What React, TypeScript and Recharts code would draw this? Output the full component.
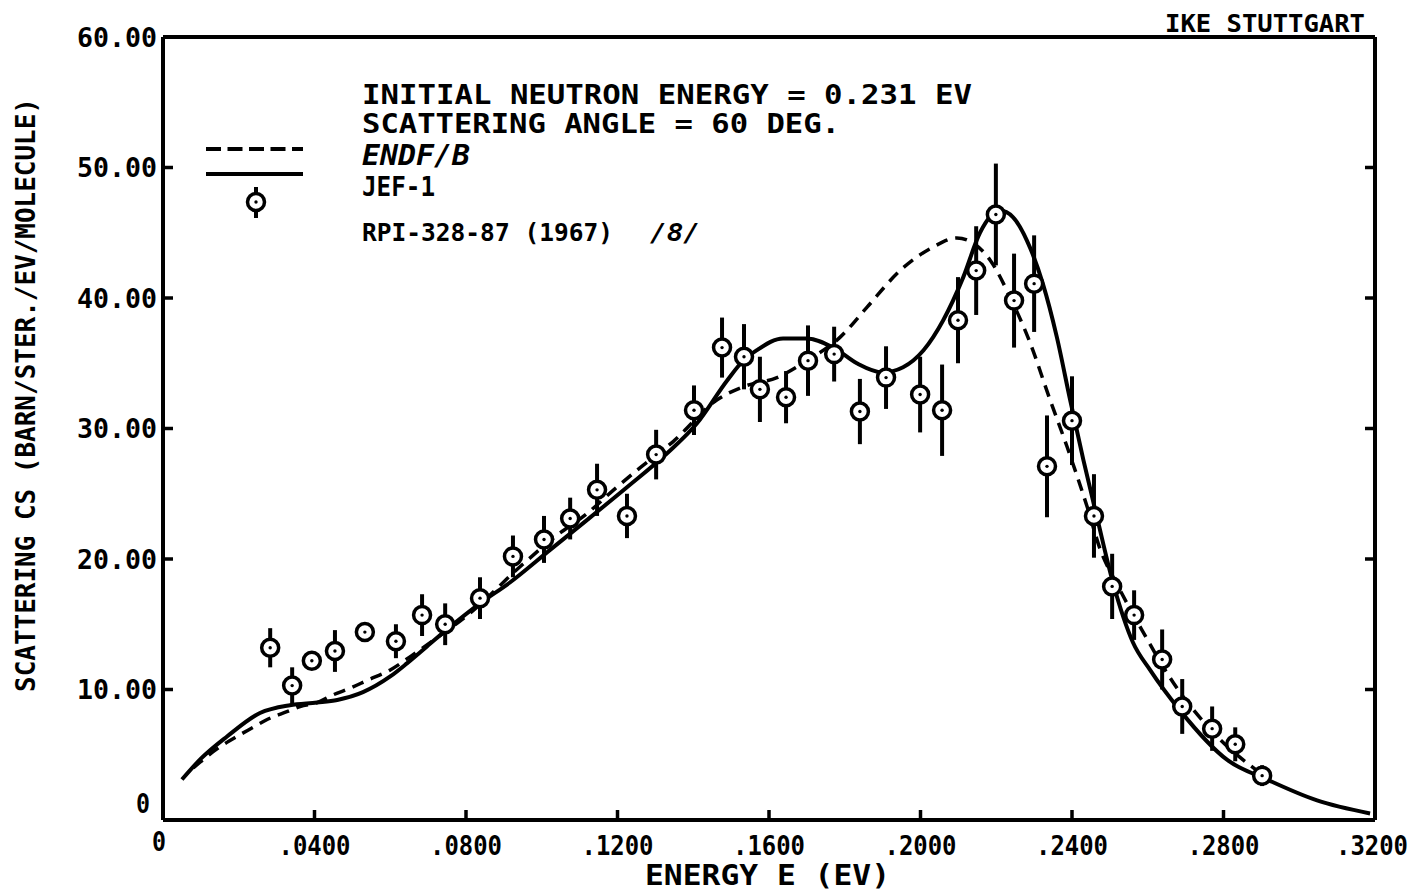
import { ComposedChart, ErrorBar, Line, Scatter, XAxis, YAxis } from "recharts";

const MONO = '"DejaVu Sans Mono", monospace';

const energyTicks = [0, 0.04, 0.08, 0.12, 0.16, 0.2, 0.24, 0.28, 0.32];
const csTicks = [0, 10, 20, 30, 40, 50, 60];

// JEF-1 evaluation (solid curve)
const jefEnergy = [
  0.005, 0.01, 0.0169, 0.0256, 0.0335, 0.0407, 0.046, 0.0528, 0.06, 0.0644, 0.0697, 0.0758,
  0.0837, 0.0916, 0.1022, 0.112, 0.1225, 0.1331, 0.141, 0.149, 0.1532, 0.1568, 0.1637, 0.17,
  0.177, 0.1832, 0.19, 0.1954, 0.2008, 0.206, 0.2113, 0.2157, 0.221, 0.2244, 0.2281, 0.2323,
  0.236, 0.2395, 0.243, 0.2466, 0.2508, 0.2561, 0.2606, 0.2685, 0.281, 0.2915, 0.3047, 0.3187,
];
const jefCs = [
  3.1, 4.7, 6.4, 8.2, 8.8, 9.0, 9.2, 9.8, 11.0, 12.0, 13.3, 14.8,
  16.6, 18.2, 20.7, 23.0, 25.5, 28.1, 30.4, 33.7, 35.2, 36.0, 36.9, 36.9,
  36.2, 35.0, 34.3, 34.7, 36.0, 38.3, 41.6, 45.0, 46.7, 46.2, 44.4, 41.1,
  37.0, 32.2, 27.6, 23.2, 18.2, 13.6, 11.5, 8.4, 4.6, 3.1, 1.5, 0.5,
];

// ENDF/B evaluation (dashed curve)
const endfEnergy = [
  0.008, 0.015, 0.0195, 0.0238, 0.0275, 0.0327, 0.0362, 0.0407, 0.045, 0.0494, 0.0539, 0.06,
  0.0652, 0.072, 0.08, 0.095, 0.1035, 0.112, 0.119, 0.126, 0.1347, 0.1463, 0.1532, 0.1621,
  0.17, 0.1788, 0.1859, 0.1946, 0.2033, 0.2096, 0.2139, 0.2184, 0.2236, 0.2289, 0.2342, 0.2387,
  0.244, 0.2475, 0.252, 0.258, 0.2668, 0.2773, 0.2897,
];
const endfCs = [
  4.0, 5.6, 6.4, 7.1, 7.7, 8.3, 8.7, 9.0, 9.6, 10.1, 10.7, 11.5,
  12.5, 13.9, 15.6, 19.6, 21.7, 23.5, 25.3, 27.0, 29.0, 32.2, 33.2, 33.9,
  35.2, 37.0, 39.3, 42.1, 43.9, 44.6, 44.2, 42.9, 40.1, 36.6, 32.2, 28.6,
  24.0, 20.7, 18.0, 14.8, 10.5, 6.7, 3.6,
];

// RPI-328-87 (1967) measurement with errors
const expEnergy = [
  0.0283, 0.0341, 0.0393, 0.0454, 0.0533, 0.0615, 0.0684, 0.0745, 0.0837, 0.0924, 0.1006,
  0.1075, 0.1146, 0.1225, 0.1302, 0.1402, 0.1476, 0.1534, 0.1576, 0.1645, 0.1703, 0.1772,
  0.184, 0.1909, 0.1999, 0.2057, 0.2099, 0.2147, 0.2199, 0.2247, 0.23, 0.2334, 0.24,
  0.2458, 0.2506, 0.2564, 0.2638, 0.2691, 0.277, 0.2831, 0.2902,
];
const expCs = [
  13.2, 10.3, 12.2, 12.95, 14.4, 13.7, 15.7, 15.0, 17.0, 20.2, 21.5,
  23.1, 25.3, 23.3, 28.0, 31.4, 36.2, 35.5, 33.0, 32.4, 35.2, 35.7,
  31.3, 33.9, 32.6, 31.4, 38.3, 42.1, 46.4, 39.8, 41.1, 27.1, 30.6,
  23.3, 17.9, 15.7, 12.3, 8.7, 7.0, 5.8, 3.4,
];
const expErr = [
  1.5, 1.4, 0.6, 1.6, 0.6, 1.3, 1.6, 1.6, 1.6, 1.6, 1.8,
  1.6, 2.0, 1.7, 1.9, 1.9, 2.3, 2.5, 2.5, 2.0, 2.7, 2.1,
  2.5, 2.4, 2.9, 3.5, 3.3, 3.4, 3.9, 3.6, 3.7, 3.9, 3.4,
  3.2, 2.5, 1.9, 2.3, 2.1, 1.7, 1.3, 0.8,
];

const jef = jefEnergy.map((e, i) => ({ e, cs: jefCs[i] }));
const endf = endfEnergy.map((e, i) => ({ e, cs: endfCs[i] }));
const rpi = expEnergy.map((e, i) => ({ e, cs: expCs[i], err: expErr[i] }));

const fmtEnergy = (v: number) => (v === 0 ? "0" : v.toFixed(4).replace(/^0/, ""));
const fmtCs = (v: number) => (v === 0 ? "0" : v.toFixed(2));

function EnergyTick({ x, y, payload }: any) {
  const v = payload.value as number;
  const zero = v === 0;
  // the last label would run past the page edge, so it is pulled in a little
  const last = v > 0.319;
  return (
    <text
      x={zero ? x - 4 : last ? x - 3 : x}
      y={y + (zero ? 31 : 35)}
      textAnchor="middle"
      fontFamily={MONO}
      fontWeight="bold"
      fontSize={26}
      fill="#000"
      textLength={zero ? 14 : 72}
      lengthAdjust="spacingAndGlyphs"
    >
      {fmtEnergy(v)}
    </text>
  );
}

function CsTick({ x, y, payload }: any) {
  const v = payload.value as number;
  const zero = v === 0;
  return (
    <text
      x={zero ? x - 7 : x}
      y={zero ? y - 7 : y + 9.5}
      textAnchor="end"
      fontFamily={MONO}
      fontWeight="bold"
      fontSize={26}
      fill="#000"
      textLength={zero ? 14 : 80}
      lengthAdjust="spacingAndGlyphs"
    >
      {fmtCs(v)}
    </text>
  );
}

const NoTick = () => <g />;

function RingMarker({ cx, cy }: any) {
  if (cx == null || cy == null) return <g />;
  return (
    <g>
      <circle cx={cx} cy={cy} r={8.5} fill="#fff" stroke="#000" strokeWidth={3.5} />
      <circle cx={cx} cy={cy} r={1.7} fill="#000" />
    </g>
  );
}

const frame = { stroke: "#000", strokeWidth: 4 };
const tickLine = { stroke: "#000", strokeWidth: 3.5 };

export default function App() {
  const txt = { fontFamily: MONO, fontWeight: "bold" as const, fill: "#000" };
  return (
    <div style={{ position: "absolute", left: 0, top: 0, width: 1415, height: 892, background: "#fff" }}>
      <ComposedChart width={1415} height={892} margin={{ top: 0, right: 0, bottom: 0, left: 0 }}>
        <XAxis
          dataKey="e"
          type="number"
          domain={[0, 0.32]}
          ticks={energyTicks}
          allowDataOverflow
          height={72}
          axisLine={frame}
          tickLine={tickLine}
          tickSize={-10}
          tickMargin={10}
          tick={EnergyTick}
          interval={0}
        />
        <XAxis
          xAxisId="top"
          orientation="top"
          type="number"
          domain={[0, 0.32]}
          ticks={energyTicks}
          allowDataOverflow
          height={37}
          axisLine={frame}
          tickLine={tickLine}
          tickSize={-10}
          tick={NoTick}
          interval={0}
        />
        <YAxis
          type="number"
          domain={[0, 60]}
          ticks={csTicks}
          allowDataOverflow
          width={163}
          axisLine={frame}
          tickLine={tickLine}
          tickSize={-10}
          tickMargin={16}
          tick={CsTick}
          interval={0}
        />
        <YAxis
          yAxisId="right"
          orientation="right"
          type="number"
          domain={[0, 60]}
          ticks={csTicks}
          allowDataOverflow
          width={40}
          axisLine={frame}
          tickLine={tickLine}
          tickSize={-10}
          tick={NoTick}
          interval={0}
        />
        <Line
          data={endf}
          dataKey="cs"
          type="monotone"
          stroke="#000"
          strokeWidth={3.5}
          strokeDasharray="12 8"
          dot={false}
          isAnimationActive={false}
        />
        <Line
          data={jef}
          dataKey="cs"
          type="monotone"
          stroke="#000"
          strokeWidth={4}
          dot={false}
          isAnimationActive={false}
        />
        <Scatter data={rpi} dataKey="cs" shape={NoTick} isAnimationActive={false}>
          <ErrorBar dataKey="err" direction="y" width={0} stroke="#000" strokeWidth={4} />
        </Scatter>
        <Scatter data={rpi} dataKey="cs" shape={RingMarker} isAnimationActive={false} />
      </ComposedChart>

      <svg width={1415} height={892} style={{ position: "absolute", left: 0, top: 0, pointerEvents: "none" }}>
        <text {...txt} x={1165} y={32} fontSize={24} textLength={200} lengthAdjust="spacingAndGlyphs">
          IKE STUTTGART
        </text>
        <text {...txt} x={645} y={885} fontSize={28} textLength={245} lengthAdjust="spacingAndGlyphs">
          ENERGY E (EV)
        </text>
        <text
          {...txt}
          x={35}
          y={395}
          fontSize={26}
          textAnchor="middle"
          transform="rotate(-90 35 395)"
          textLength={594}
          lengthAdjust="spacingAndGlyphs"
        >
          SCATTERING CS (BARN/STER./EV/MOLECULE)
        </text>

        <text {...txt} x={362} y={104} fontSize={27} textLength={610} lengthAdjust="spacingAndGlyphs">
          INITIAL NEUTRON ENERGY = 0.231 EV
        </text>
        <text {...txt} x={362} y={133} fontSize={27} textLength={478} lengthAdjust="spacingAndGlyphs">
          SCATTERING ANGLE = 60 DEG.
        </text>
        <text {...txt} x={362} y={165} fontSize={28} fontStyle="italic" textLength={108} lengthAdjust="spacingAndGlyphs">
          ENDF/B
        </text>
        <text {...txt} x={362} y={196} fontSize={27} textLength={73} lengthAdjust="spacingAndGlyphs">
          JEF-1
        </text>
        <text {...txt} x={362} y={241} fontSize={25} textLength={251} lengthAdjust="spacingAndGlyphs">
          RPI-328-87 (1967)
        </text>
        <text {...txt} x={650} y={241} fontSize={25} fontStyle="italic" textLength={50} lengthAdjust="spacingAndGlyphs">
          /8/
        </text>

        {/* legend keys */}
        <line x1={206} y1={149} x2={303} y2={149} stroke="#000" strokeWidth={4} strokeDasharray="15 6.5" />
        <line x1={206} y1={174} x2={303} y2={174} stroke="#000" strokeWidth={4} />
        <line x1={256} y1={187} x2={256} y2={218} stroke="#000" strokeWidth={4} />
        <RingMarker cx={256} cy={202} />
      </svg>
    </div>
  );
}
